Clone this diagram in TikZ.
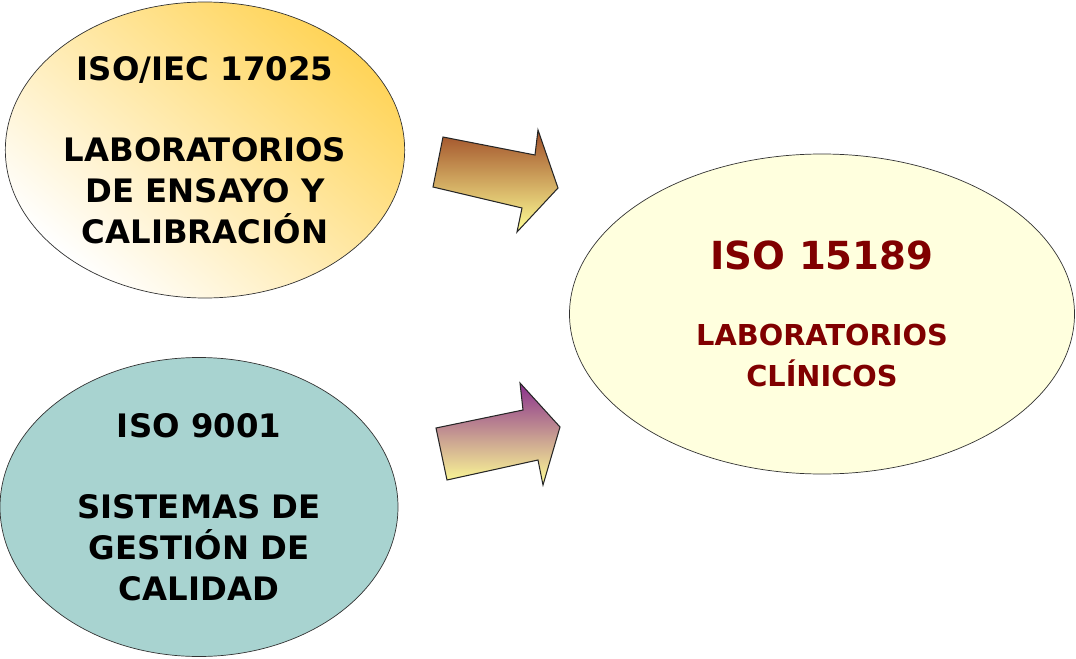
\documentclass[tikz,border=0pt]{standalone}
\usepackage{fontspec}
\setmainfont{DejaVu Sans}
\usepackage{tikz}
\usetikzlibrary{shapes}
\usetikzlibrary{calc}

\definecolor{goldtone}{RGB}{255,212,88}
\definecolor{tealtone}{RGB}{168,211,208}
\definecolor{creamtone}{RGB}{255,255,222}
\definecolor{wine}{RGB}{128,0,0}
\definecolor{rust}{RGB}{160,78,40}
\definecolor{plum}{RGB}{138,48,140}
\definecolor{paleyellow}{RGB}{255,255,150}

\newcommand{\bigline}{\fontsize{22}{26}\selectfont}
\newcommand{\smallline}{\fontsize{16.4}{20.5}\selectfont}

\begin{document}
\begin{tikzpicture}[x=0.02cm, y=-0.02cm]

\tikzset{%
    every norm/.style = {
        ellipse,
        draw=black!80,
        inner sep=0pt,
        align=center,
        font=\bfseries\fontsize{18.4}{23.2}\selectfont
    },
    block arrow/.style = {
        draw=black!85,
        line width=0.6pt,
        line join=miter
    }
}

\useasboundingbox (0,0) rectangle (1076,659);

\node [every norm/.try, minimum width=395*0.02cm, minimum height=296*0.02cm,
       top color=goldtone, bottom color=white, shading angle=-40]
  (lab) at (205,150) {ISO/IEC 17025\\[23pt] LABORATORIOS\\ DE ENSAYO Y\\ CALIBRACIÓN};

\node [every norm/.try, minimum width=398*0.02cm, minimum height=299*0.02cm,
       fill=tealtone]
  (qms) at (199,507) {ISO 9001\\[23pt] SISTEMAS DE\\ GESTIÓN DE\\ CALIDAD};

\node [every norm/.try, minimum width=505*0.02cm, minimum height=320*0.02cm,
       fill=creamtone, text=wine]
  (clinic) at (822,314) {\bigline ISO 15189\\[20pt]
    \smallline LABORATORIOS\\ \smallline CLÍNICOS};

% block arrows
\foreach \name/\a/\b/\c/\d/\e/\f/\g/\tone in {%
    upper/{443,137}/{535,155}/{538,130}/{558,188}/{517,232}/{522,208}/{433,187}/rust,
    lower/{436,428}/{523,410}/{520,383}/{560,427}/{543,485}/{538,460}/{447,480}/plum}
{
  \coordinate (\name-tip) at (\d);
  \draw [block arrow, top color=\tone, bottom color=paleyellow]
    (\a) -- (\b) -- (\c) -- (\name-tip) -- (\e) -- (\f) -- (\g) -- cycle;
}

\end{tikzpicture}
\end{document}
